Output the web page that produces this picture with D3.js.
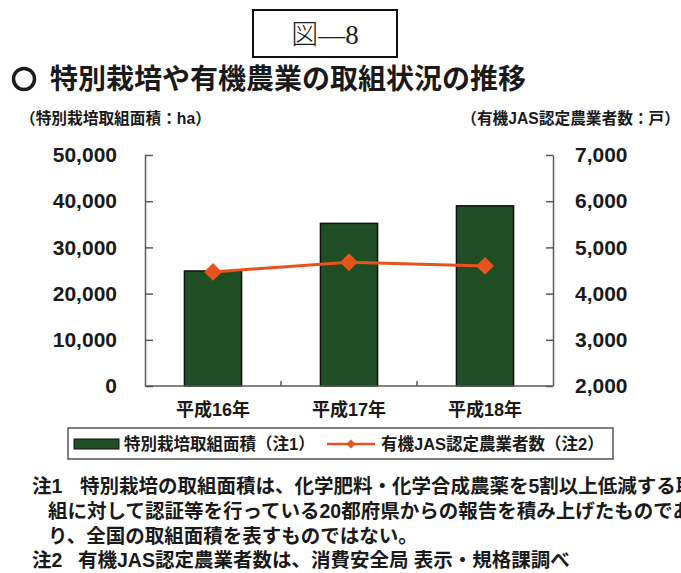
<!DOCTYPE html>
<html lang="ja">
<head>
<meta charset="utf-8">
<script src="https://cdn.jsdelivr.net/npm/d3@7"></script>
<style>
  html, body { margin: 0; padding: 0; background: #fff; overflow: hidden; }
  svg { display: block; }
  text { fill: #1a1a1a; }
</style>
</head>
<body>
<svg id="chart" width="681" height="573"></svg>
<script>
// 年次（カテゴリ）
const years = ["平成16年", "平成17年", "平成18年"];
// 特別栽培取組面積 (ha)
const areaHa = [24900, 35200, 39000];
// 有機JAS認定農業者数 (戸)
const organicFarmers = [4470, 4680, 4600];
// 目盛り
const leftTicks = [0, 10000, 20000, 30000, 40000, 50000];
const rightTicks = [2000, 3000, 4000, 5000, 6000, 7000];

const seriesNames = ["特別栽培取組面積（注1）", "有機JAS認定農業者数（注2）"];
const notes = [
  { head: "注1", lines: [
    "特別栽培の取組面積は、化学肥料・化学合成農薬を5割以上低減する取",
    "組に対して認証等を行っている20都府県からの報告を積み上げたものであ",
    "り、全国の取組面積を表すものではない。"] },
  { head: "注2", lines: ["有機JAS認定農業者数は、消費安全局 表示・規格課調べ"] }
];

const CJK = "'Liberation Sans', 'Noto Sans CJK JP', sans-serif";
const BAR_FILL = "#1f4d24";
const LINE_COLOR = "#e8521c";
const AXIS_COLOR = "#5a5a5a";

const svg = d3.select("#chart");

// 図番号の枠
svg.append("rect")
  .attr("x", 253).attr("y", 10).attr("width", 144).attr("height", 47)
  .attr("fill", "none").attr("stroke", "#111").attr("stroke-width", 2);
svg.append("text")
  .attr("x", 325).attr("y", 35)
  .attr("text-anchor", "middle").attr("dominant-baseline", "central")
  .style("font-family", "'Liberation Serif', 'Noto Sans CJK JP', serif")
  .style("font-size", "27px").style("font-weight", 300)
  .text("図—8");

// 表題（先頭の白丸は太線の円で描く）
svg.append("circle")
  .attr("cx", 24).attr("cy", 79).attr("r", 10.5)
  .attr("fill", "none").attr("stroke", "#1a1a1a").attr("stroke-width", 3.5);
svg.append("text")
  .attr("x", 50).attr("y", 79).attr("dominant-baseline", "central")
  .style("font-family", CJK).style("font-size", "28px").style("font-weight", 700)
  .text("特別栽培や有機農業の取組状況の推移");

// 軸の単位
svg.append("text")
  .attr("x", 20).attr("y", 118).attr("dominant-baseline", "central")
  .style("font-family", CJK).style("font-size", "15.7px").style("font-weight", 700)
  .text("（特別栽培取組面積：ha）");
svg.append("text")
  .attr("x", 680).attr("y", 118).attr("dominant-baseline", "central")
  .attr("text-anchor", "end")
  .style("font-family", CJK).style("font-size", "15.7px").style("font-weight", 700)
  .text("（有機JAS認定農業者数：戸）");

// 作図領域
const plot = { left: 145, right: 553, top: 155, bottom: 386 };

const x = d3.scaleBand()
  .domain(years)
  .range([plot.left, plot.right])
  .paddingInner(0.58)
  .paddingOuter(0.29);

const yLeft = d3.scaleLinear().domain([0, 50000]).range([plot.bottom, plot.top]);
const yRight = d3.scaleLinear().domain([2000, 7000]).range([plot.bottom, plot.top]);

const fmt = d3.format(",");

// 棒グラフ
svg.append("g").selectAll("rect")
  .data(areaHa)
  .join("rect")
  .attr("x", (d, i) => x(years[i]))
  .attr("y", d => yLeft(d))
  .attr("width", x.bandwidth())
  .attr("height", d => yLeft(0) - yLeft(d))
  .attr("fill", BAR_FILL)
  .attr("stroke", "#111")
  .attr("stroke-width", 1.5);

// 左軸（目盛り線は内向き）
const leftAxisLine = svg.append("g")
  .attr("transform", `translate(${plot.left},0)`)
  .call(d3.axisLeft(yLeft).tickValues(leftTicks).tickSizeInner(-8).tickSizeOuter(0).tickFormat(""));
const leftAxisLabels = svg.append("g")
  .attr("transform", `translate(${plot.left},0)`)
  .call(d3.axisLeft(yLeft).tickValues(leftTicks).tickSize(0).tickPadding(28).tickFormat(fmt));
leftAxisLabels.select(".domain").remove();

// 右軸
const rightAxisLine = svg.append("g")
  .attr("transform", `translate(${plot.right},0)`)
  .call(d3.axisRight(yRight).tickValues(rightTicks).tickSizeInner(-7).tickSizeOuter(0).tickFormat(""));
const rightAxisLabels = svg.append("g")
  .attr("transform", `translate(${plot.right},0)`)
  .call(d3.axisRight(yRight).tickValues(rightTicks).tickSize(0).tickPadding(22).tickFormat(fmt));
rightAxisLabels.select(".domain").remove();

[leftAxisLine, rightAxisLine].forEach(g => {
  g.selectAll(".domain, line").attr("stroke", AXIS_COLOR).attr("stroke-width", 1.5);
});
[leftAxisLabels, rightAxisLabels].forEach(g => {
  g.selectAll("text")
    .attr("fill", "#1a1a1a")
    .style("font-family", "'Liberation Sans', Arial, sans-serif")
    .style("font-size", "21px").style("font-weight", 700);
});

// 横軸：区切り目盛りはカテゴリ間に上向き
const step = x.step();
const dividers = years.slice(1).map(c => x(c) - step * x.paddingInner() / 2);
const bottomAxis = svg.append("g")
  .attr("transform", `translate(0,${plot.bottom})`);
bottomAxis.append("line")
  .attr("x1", plot.left).attr("x2", plot.right)
  .attr("stroke", AXIS_COLOR).attr("stroke-width", 1.5);
bottomAxis.selectAll("line.div")
  .data(dividers)
  .join("line")
  .attr("class", "div")
  .attr("x1", d => d).attr("x2", d => d)
  .attr("y1", 0).attr("y2", -5)
  .attr("stroke", AXIS_COLOR).attr("stroke-width", 1.5);

const catAxis = svg.append("g")
  .attr("transform", `translate(0,${plot.bottom})`)
  .call(d3.axisBottom(x).tickSize(0).tickPadding(17));
catAxis.select(".domain").remove();
catAxis.selectAll("text")
  .attr("fill", "#1a1a1a")
  .style("font-family", CJK).style("font-size", "18px").style("font-weight", 700);

// 折れ線（右軸）
const cx = i => x(years[i]) + x.bandwidth() / 2;
const line = d3.line()
  .x((d, i) => cx(i))
  .y(d => yRight(d));
svg.append("path")
  .datum(organicFarmers)
  .attr("d", line)
  .attr("fill", "none")
  .attr("stroke", LINE_COLOR)
  .attr("stroke-width", 3);

const diamond = d3.symbol().type(d3.symbolSquare).size(160);
svg.append("g").selectAll("path")
  .data(organicFarmers)
  .join("path")
  .attr("d", diamond)
  .attr("transform", (d, i) => `translate(${cx(i)},${yRight(d)}) rotate(45)`)
  .attr("fill", LINE_COLOR);

// 凡例
const legend = svg.append("g");
legend.append("rect")
  .attr("x", 68).attr("y", 428).attr("width", 545).attr("height", 31)
  .attr("fill", "#fff").attr("stroke", "#555").attr("stroke-width", 1.5);
legend.append("rect")
  .attr("x", 74).attr("y", 439).attr("width", 45).attr("height", 10)
  .attr("fill", BAR_FILL).attr("stroke", "#111").attr("stroke-width", 1);
legend.append("text")
  .attr("x", 124).attr("y", 444).attr("dominant-baseline", "central")
  .style("font-family", CJK).style("font-size", "16.5px").style("font-weight", 700)
  .text(seriesNames[0]);
legend.append("line")
  .attr("x1", 327).attr("x2", 375).attr("y1", 444).attr("y2", 444)
  .attr("stroke", LINE_COLOR).attr("stroke-width", 2.5);
legend.append("path")
  .attr("d", d3.symbol().type(d3.symbolSquare).size(40))
  .attr("transform", "translate(351,444) rotate(45)")
  .attr("fill", LINE_COLOR);
legend.append("text")
  .attr("x", 381).attr("y", 444).attr("dominant-baseline", "central")
  .style("font-family", CJK).style("font-size", "16.5px").style("font-weight", 700)
  .text(seriesNames[1]);

// 注記（右端は紙面で切れる）
const noteStyle = sel => sel
  .style("font-family", CJK).style("font-size", "19.5px").style("font-weight", 700);
const noteRows = [
  { head: notes[0].head, text: notes[0].lines[0], x: 80, y: 486 },
  { head: null, text: notes[0].lines[1], x: 48, y: 511 },
  { head: null, text: notes[0].lines[2], x: 48, y: 536 },
  { head: notes[1].head, text: notes[1].lines[0], x: 78, y: 560 }
];
noteRows.forEach(r => {
  if (r.head) {
    svg.append("text").attr("x", 32).attr("y", r.y)
      .attr("dominant-baseline", "central").call(noteStyle).text(r.head);
  }
  svg.append("text").attr("x", r.x).attr("y", r.y)
    .attr("dominant-baseline", "central").call(noteStyle).text(r.text);
});
</script>
</body>
</html>
